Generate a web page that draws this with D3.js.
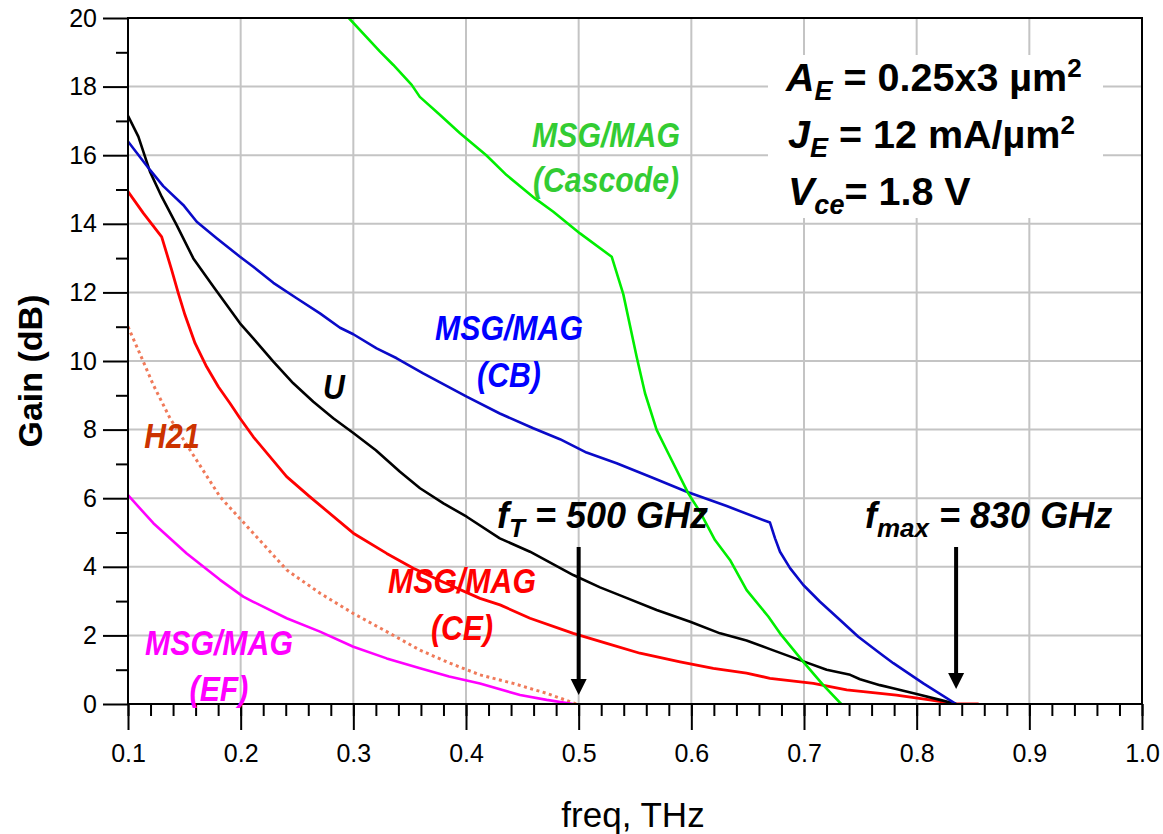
<!DOCTYPE html>
<html>
<head>
<meta charset="utf-8">
<script src="https://cdn.jsdelivr.net/npm/d3@7"></script>
<style>
  html, body { margin: 0; padding: 0; background: #fff; }
  svg { display: block; }
  text { font-family: "Liberation Sans", Arial, Helvetica, sans-serif; }
</style>
</head>
<body>
<svg id="chart" width="1163" height="834"></svg>
<script>
// ---------------- data ----------------
const xTicks = [0.1, 0.2, 0.3, 0.4, 0.5, 0.6, 0.7, 0.8, 0.9, 1.0];
const yTicks = [0, 2, 4, 6, 8, 10, 12, 14, 16, 18, 20];

const cascodeF = [0.296, 0.3237, 0.3355, 0.3518, 0.359, 0.377, 0.3947, 0.418, 0.436, 0.4612, 0.4775, 0.5012, 0.5293, 0.5396, 0.5514, 0.5589, 0.5692, 0.5795, 0.5973, 0.6077, 0.621, 0.6343, 0.6491, 0.6683, 0.6787, 0.6994, 0.7171, 0.733];
const cascodeG = [20.0, 19.02, 18.63, 18.05, 17.7, 17.17, 16.64, 16.0, 15.42, 14.74, 14.35, 13.72, 13.04, 11.95, 10.13, 9.06, 7.99, 7.31, 6.14, 5.6, 4.78, 4.2, 3.32, 2.55, 2.06, 1.23, 0.55, 0.0];

const cbF = [0.1, 0.1195, 0.1313, 0.149, 0.161, 0.1787, 0.1994, 0.2112, 0.229, 0.2497, 0.2704, 0.2882, 0.3, 0.3207, 0.3385, 0.362, 0.4006, 0.430, 0.4597, 0.4834, 0.507, 0.5337, 0.5662, 0.5959, 0.6314, 0.6698, 0.6743, 0.6787, 0.6876, 0.6994, 0.7142, 0.732, 0.7482, 0.7674, 0.7793, 0.8059, 0.835];
const cbG = [16.4, 15.57, 15.1, 14.55, 14.06, 13.58, 13.04, 12.75, 12.28, 11.83, 11.39, 10.97, 10.78, 10.37, 10.08, 9.64, 8.96, 8.47, 8.04, 7.72, 7.33, 7.02, 6.59, 6.19, 5.77, 5.29, 4.83, 4.44, 3.96, 3.47, 2.98, 2.45, 1.96, 1.48, 1.19, 0.6, 0.0];

const uF = [0.1, 0.1092, 0.1195, 0.1299, 0.1432, 0.158, 0.1757, 0.1994, 0.2112, 0.229, 0.2467, 0.2645, 0.2822, 0.30, 0.32, 0.3414, 0.3592, 0.38, 0.4006, 0.430, 0.4568, 0.4952, 0.519, 0.5396, 0.5692, 0.599, 0.6255, 0.649, 0.6698, 0.6964, 0.7201, 0.741, 0.7497, 0.7674, 0.779, 0.80, 0.8207, 0.835];
const uG = [17.15, 16.54, 15.52, 14.79, 13.96, 12.99, 12.17, 11.1, 10.66, 9.98, 9.35, 8.81, 8.33, 7.9, 7.4, 6.77, 6.29, 5.85, 5.46, 4.83, 4.44, 3.76, 3.4, 3.13, 2.74, 2.4, 2.06, 1.85, 1.6, 1.28, 1.0, 0.85, 0.72, 0.55, 0.46, 0.29, 0.12, 0.0];

const ceF = [0.1, 0.1136, 0.1299, 0.1388, 0.1447, 0.1506, 0.1595, 0.1698, 0.1802, 0.1905, 0.1994, 0.2112, 0.2408, 0.2615, 0.3, 0.3296, 0.3532, 0.38, 0.4124, 0.4302, 0.4568, 0.4952, 0.5249, 0.5544, 0.59, 0.6195, 0.649, 0.6698, 0.7083, 0.7379, 0.7674, 0.782, 0.81, 0.835, 0.855];
const ceG = [14.94, 14.31, 13.62, 12.65, 11.97, 11.34, 10.52, 9.83, 9.25, 8.77, 8.33, 7.79, 6.63, 6.04, 4.98, 4.39, 3.96, 3.55, 3.08, 2.89, 2.5, 2.06, 1.77, 1.48, 1.23, 1.04, 0.9, 0.75, 0.6, 0.41, 0.31, 0.26, 0.13, 0.0, 0.0];

const h21F = [0.1, 0.1107, 0.1225, 0.1373, 0.155, 0.1817, 0.2112, 0.2408, 0.2704, 0.3, 0.3296, 0.3592, 0.385, 0.4124, 0.442, 0.4716, 0.498];
const h21G = [11.0, 10.2, 9.3, 8.33, 7.41, 6.04, 4.98, 3.91, 3.23, 2.64, 2.11, 1.57, 1.2, 0.85, 0.6, 0.31, 0.0];

const efF = [0.1, 0.1225, 0.1521, 0.1817, 0.2023, 0.2112, 0.2408, 0.2704, 0.3, 0.3296, 0.3592, 0.385, 0.4124, 0.448, 0.4716, 0.495];
const efG = [6.09, 5.27, 4.39, 3.62, 3.13, 2.98, 2.5, 2.11, 1.67, 1.33, 1.04, 0.8, 0.6, 0.26, 0.12, 0.0];

const fT = 0.5;      // THz
const fMax = 0.835;  // THz

// ---------------- setup ----------------
const svg = d3.select("#chart");
const L = 128, R = 1142, T = 18, B = 704;
const x = d3.scaleLinear().domain([0.1, 1.0]).range([L, R]);
const y = d3.scaleLinear().domain([0, 20]).range([B, T]);

svg.append("defs").append("clipPath").attr("id", "plotclip")
  .append("rect").attr("x", L).attr("y", T).attr("width", R - L).attr("height", B - T);

// grid
const grid = svg.append("g");
grid.selectAll("line.gx").data(xTicks).join("line")
  .attr("x1", d => x(d)).attr("x2", d => x(d)).attr("y1", T).attr("y2", B)
  .attr("stroke", "#c4c4c4").attr("stroke-width", 2);
grid.selectAll("line.gy").data(yTicks).join("line")
  .attr("y1", d => y(d)).attr("y2", d => y(d)).attr("x1", L).attr("x2", R)
  .attr("stroke", "#c4c4c4").attr("stroke-width", 2);

// white box behind parameter text
svg.append("rect").attr("x", 768).attr("y", 55).attr("width", 335).attr("height", 163).attr("fill", "#fff");

// curves
const line = d3.line().x(d => x(d[0])).y(d => y(d[1]));
const curves = svg.append("g").attr("clip-path", "url(#plotclip)");
function drawCurve(fs, gs, color, width, dash) {
  const p = curves.append("path")
    .datum(d3.zip(fs, gs))
    .attr("d", line)
    .attr("fill", "none")
    .attr("stroke", color)
    .attr("stroke-width", width)
    .attr("stroke-linejoin", "round");
  if (dash) p.attr("stroke-dasharray", dash).attr("stroke-linecap", "butt");
}
drawCurve(h21F, h21G, "#f07a5a", 3, "3,3.5");
drawCurve(efF, efG, "#ff00ff", 2.6);
drawCurve(ceF, ceG, "#ff0000", 2.8);
drawCurve(uF, uG, "#000000", 2.6);
drawCurve(cbF, cbG, "#0a0ac8", 2.6);
drawCurve(cascodeF, cascodeG, "#00ee00", 2.6);

// axes
const fontFam = '"Liberation Sans", Arial, Helvetica, sans-serif';
const xAxis = svg.append("g").attr("transform", `translate(0,${B})`)
  .call(d3.axisBottom(x).tickValues(xTicks).tickSize(26).tickPadding(14).tickFormat(d3.format(".1f")));
const xMinor = svg.append("g").attr("transform", `translate(0,${B})`)
  .call(d3.axisBottom(x).tickValues(d3.range(0.1, 1.0001, 0.02)).tickSize(12).tickFormat(""));
const yAxis = svg.append("g").attr("transform", `translate(${L},0)`)
  .call(d3.axisLeft(y).tickValues(yTicks).tickSize(25).tickPadding(6).tickFormat(d3.format("d")));
const yMinor = svg.append("g").attr("transform", `translate(${L},0)`)
  .call(d3.axisLeft(y).tickValues(d3.range(1, 20, 2)).tickSize(12).tickFormat(""));
[xAxis, xMinor, yAxis, yMinor].forEach(g => {
  g.select(".domain").remove();
  g.selectAll(".tick line").attr("stroke", "#000").attr("stroke-width", 2);
  g.selectAll("text").attr("font-size", 25).attr("font-family", fontFam).attr("fill", "#000");
});

// frame
svg.append("rect").attr("x", L).attr("y", T).attr("width", R - L).attr("height", B - T)
  .attr("fill", "none").attr("stroke", "#000").attr("stroke-width", 2);

// axis titles
svg.append("text").attr("x", (L + R) / 2 - 2).attr("y", 827).attr("text-anchor", "middle")
  .attr("font-size", 35).attr("font-family", fontFam).text("freq, THz");
svg.append("text").attr("transform", "translate(42,371) rotate(-90)").attr("text-anchor", "middle")
  .attr("font-size", 34).attr("font-weight", "bold").attr("font-family", fontFam).text("Gain (dB)");

// curve labels
function label(lines, color, cx, baseline, gap) {
  lines.forEach((t, i) => {
    svg.append("text")
      .attr("transform", `translate(${cx},${baseline + i * gap}) scale(0.84,1)`)
      .attr("text-anchor", "middle")
      .attr("font-size", 36).attr("font-weight", "bold").attr("font-style", "italic")
      .attr("font-family", fontFam).attr("fill", color).text(t);
  });
}
label(["MSG/MAG", "(Cascode)"], "#33cc33", 606, 147, 45);
label(["MSG/MAG", "(CB)"], "#0000ff", 509, 340, 47);
label(["MSG/MAG", "(CE)"], "#ff0000", 462, 593, 47);
label(["MSG/MAG", "(EF)"], "#ff00ff", 219, 655, 46);
label(["H21"], "#cc3300", 172, 448, 0);
label(["U"], "#000000", 334, 399, 0);

// parameter text block
function richText(xp, yp, parts, size) {
  const t = svg.append("text").attr("x", xp).attr("y", yp)
    .attr("font-size", size).attr("font-weight", "bold").attr("font-family", fontFam).attr("fill", "#000");
  parts.forEach(p => {
    t.append("tspan").attr("dy", p.dy || 0)
      .attr("font-size", p.size || size)
      .attr("font-style", p.italic ? "italic" : "normal")
      .text(p.t);
  });
}
richText(786, 91, [
  {t: "A", italic: true}, {t: "E", italic: true, size: 27, dy: 9},
  {t: " = 0.25x3 µm", dy: -9}, {t: "2", size: 26, dy: -14}], 39.5);
richText(788, 148, [
  {t: "J", italic: true}, {t: "E", italic: true, size: 27, dy: 9},
  {t: " = 12 mA/µm", dy: -9}, {t: "2", size: 26, dy: -14}], 39.5);
richText(788, 205, [
  {t: "V", italic: true}, {t: "ce", italic: true, size: 27, dy: 9},
  {t: "= 1.8 V", dy: -9}], 39.5);

// fT and fmax annotations
richText(497, 528, [
  {t: "f", italic: true}, {t: "T", italic: true, size: 26, dy: 9},
  {t: " = 500 GHz", italic: true, dy: -9}], 36);
richText(865, 528, [
  {t: "f", italic: true}, {t: "max", italic: true, size: 26, dy: 9},
  {t: " = 830 GHz", italic: true, dy: -9}], 36);

function arrow(f, yStart, yTip) {
  const xp = x(f);
  svg.append("line").attr("x1", xp).attr("x2", xp).attr("y1", yStart).attr("y2", yTip - 12)
    .attr("stroke", "#000").attr("stroke-width", 4);
  svg.append("path").attr("d", `M${xp - 8},${yTip - 16} L${xp + 8},${yTip - 16} L${xp},${yTip} Z`)
    .attr("fill", "#000");
}
arrow(fT, 547, y(0.26));
arrow(fMax, 547, y(0.44));
</script>
</body>
</html>
